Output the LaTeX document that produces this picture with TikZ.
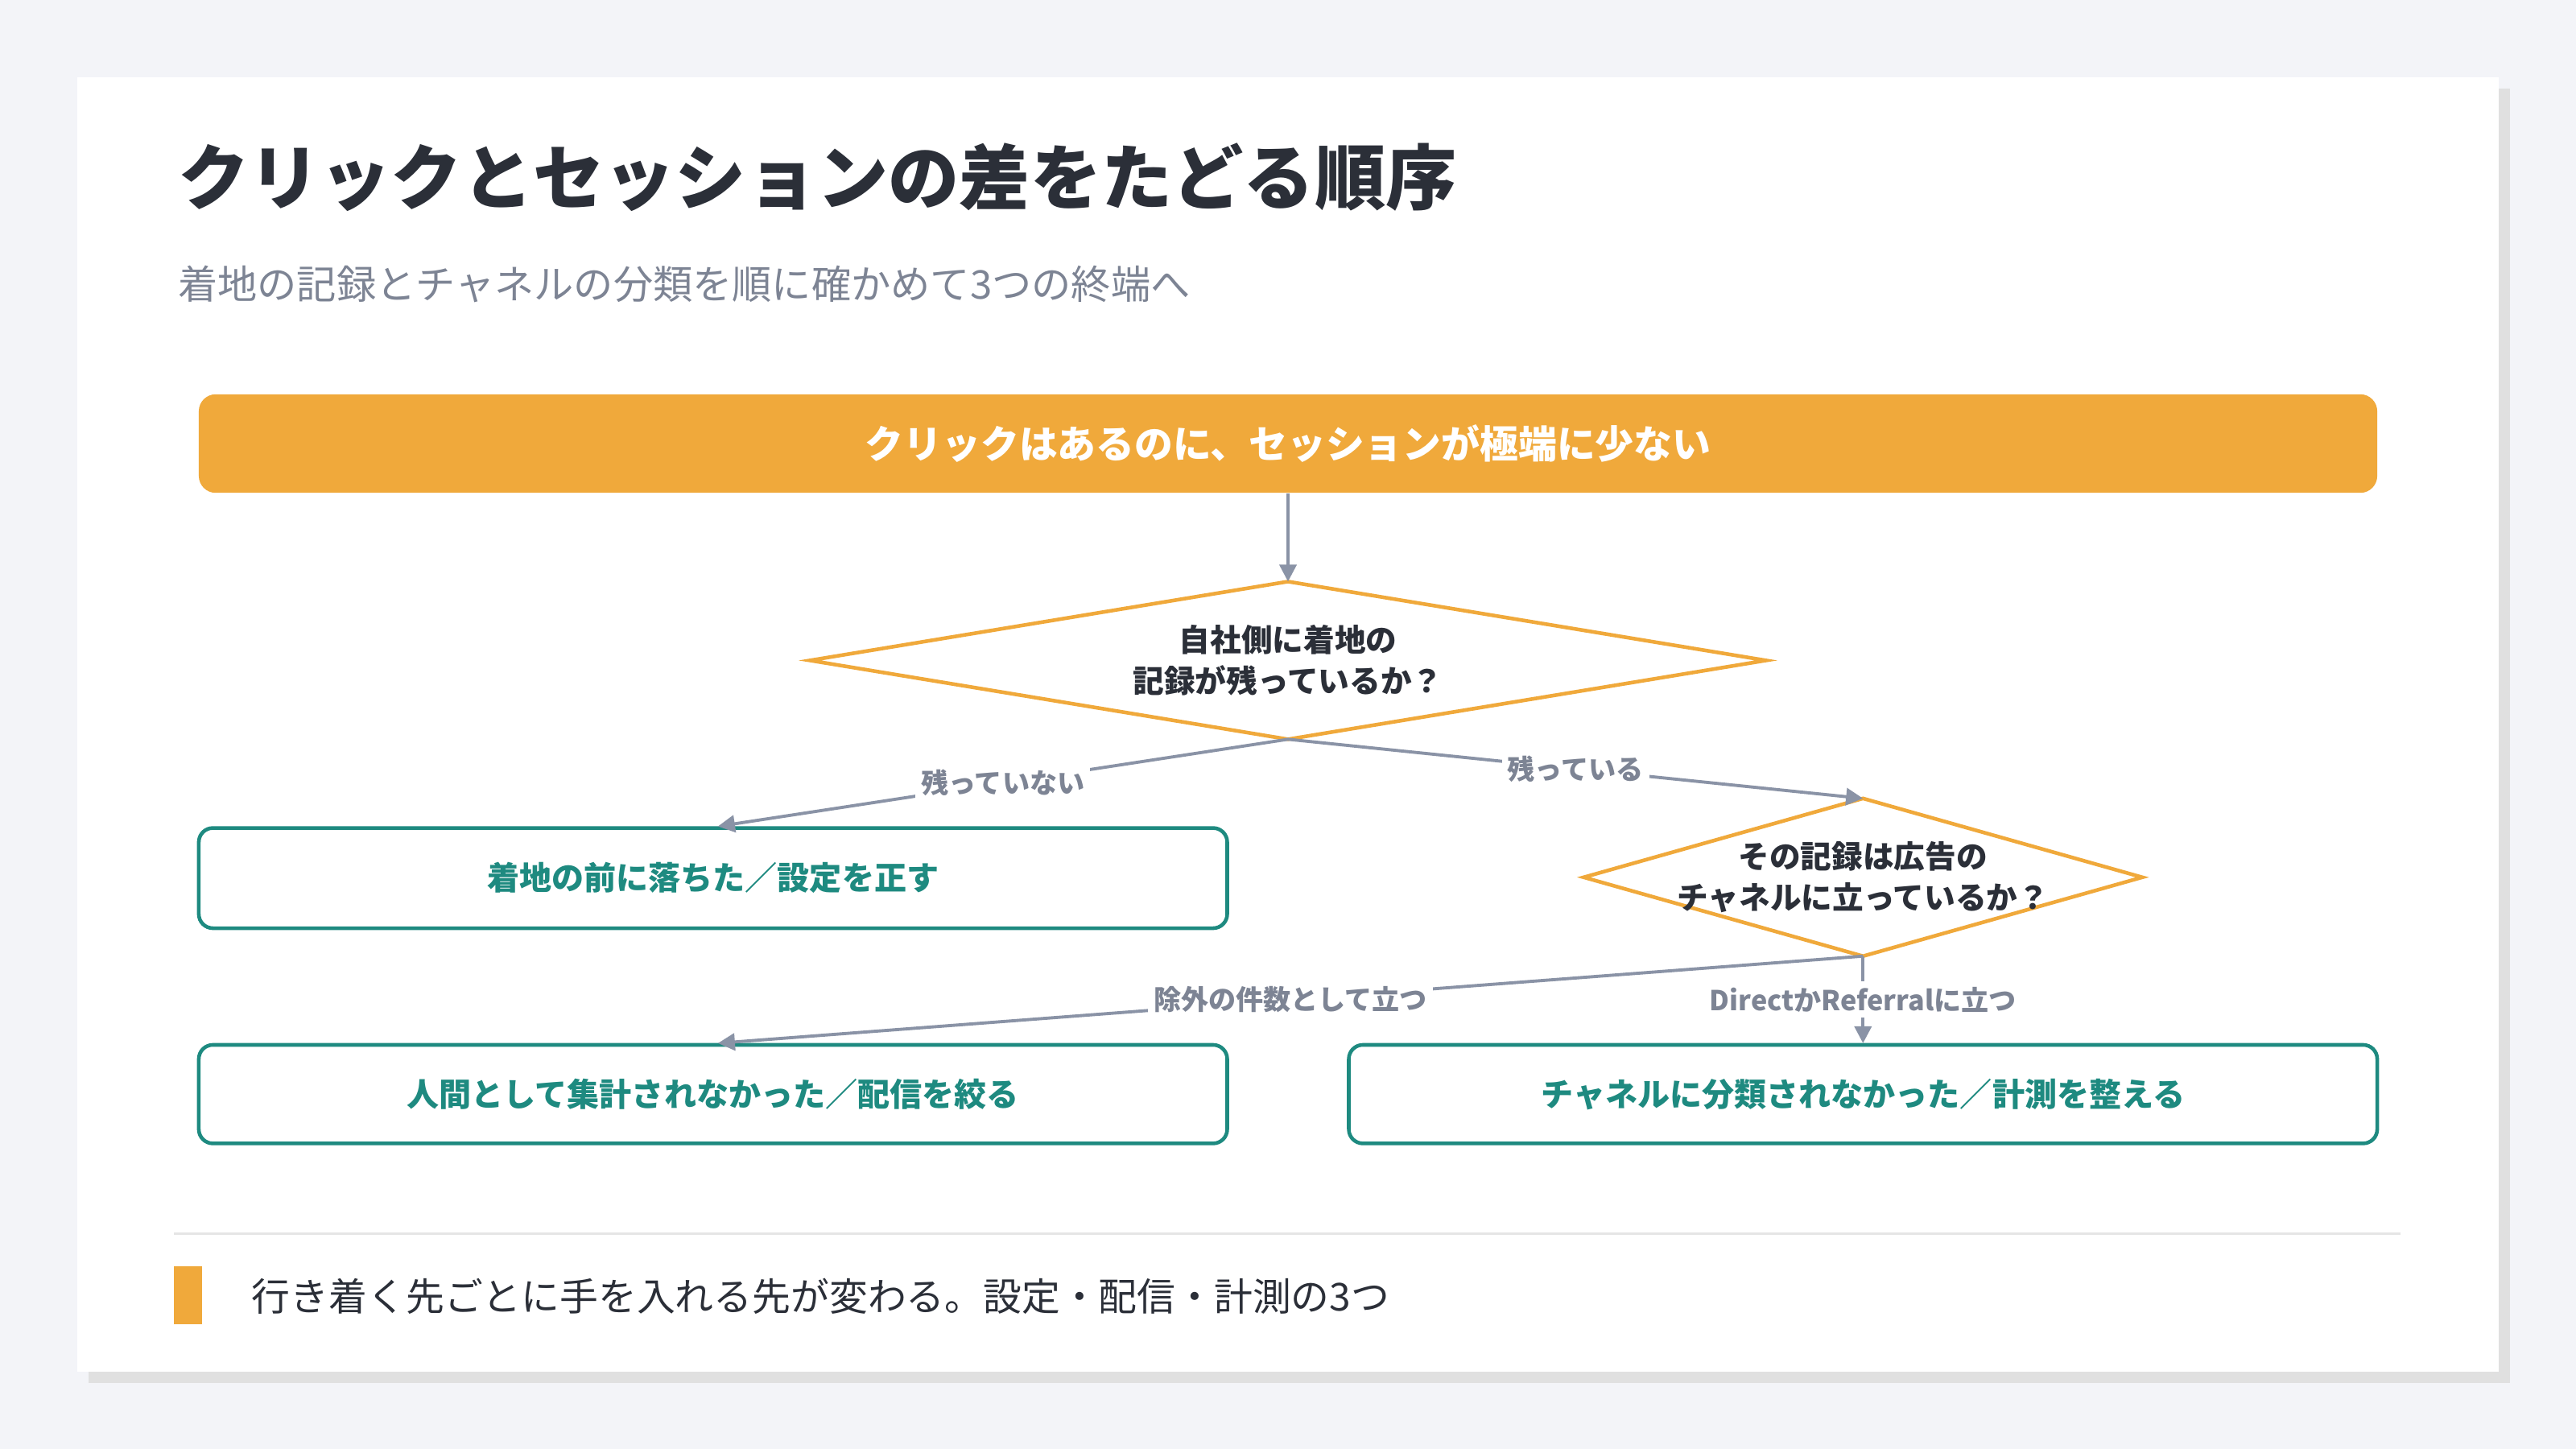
\documentclass[tikz,border=0pt]{standalone}
\usepackage{fontspec}
\setmainfont{Noto Sans CJK JP}
\usetikzlibrary{shapes.geometric,arrows.meta}
\definecolor{bg}{HTML}{F3F4F8}
\definecolor{org}{HTML}{F0A93B}
\definecolor{teal}{HTML}{1E8A80}
\definecolor{dark}{HTML}{2B2F38}
\definecolor{sub}{HTML}{7D8494}
\definecolor{con}{HTML}{8A93A6}
\begin{document}
\begin{tikzpicture}[x=0.020408cm,y=-0.020408cm,
  conn/.style={draw=con,line width=1.1pt,-{Triangle[length=6pt,width=6pt]}},
  lab/.style={fill=white,text=sub,font=\bfseries\fontsize{9.7}{11}\selectfont,inner sep=2pt},
  term/.style={draw=teal,line width=1.3pt,rounded corners=5pt,fill=white,text=teal,font=\bfseries\fontsize{11.4}{13}\selectfont},
  dia/.style={draw=org,line width=1.3pt,fill=white},
  dtext/.style={text=dark,font=\bfseries\fontsize{11}{14.5}\selectfont,align=center}]
\useasboundingbox (0,0) rectangle (1568,882);
\fill[bg] (0,0) rectangle (1568,882);
\fill[black!12] (54,54) rectangle (1528,842);
\fill[white] (47,47) rectangle (1521,835);
\node[anchor=west,text=dark,font=\bfseries\fontsize{25.1}{29}\selectfont,inner sep=0pt] (title) at (108,108) {クリックとセッションの差をたどる順序};
\node[anchor=west,text=sub,font=\fontsize{14}{16}\selectfont,inner sep=0pt] (subt) at (108,173) {着地の記録とチャネルの分類を順に確かめて3つの終端へ};
\node[fill=org,rounded corners=6pt,minimum width=1326*0.020408cm,minimum height=60*0.020408cm,text=white,font=\bfseries\fontsize{13.6}{15}\selectfont] (top) at (784,270) {クリックはあるのに、セッションが極端に少ない};
\draw[dia] (493,402) coordinate (d1l) -- (784,354) coordinate (d1t) -- (1075,402) -- (784,450) coordinate (d1b) -- cycle;
\node[dtext] (d1) at (784,402) {自社側に着地の\\記録が残っているか？};
\draw[dia] (964,534) -- (1134,486) coordinate (d2t) -- (1304,534) -- (1134,582) coordinate (d2b) -- cycle;
\node[dtext] (d2) at (1134,534) {その記録は広告の\\チャネルに立っているか？};
\node[term,minimum width=626*0.020408cm,minimum height=61*0.020408cm] (t1) at (434,534.5) {着地の前に落ちた／設定を正す};
\node[term,minimum width=626*0.020408cm,minimum height=60*0.020408cm] (t2) at (434,666) {人間として集計されなかった／配信を絞る};
\node[term,minimum width=626*0.020408cm,minimum height=60*0.020408cm] (t3) at (1134,666) {チャネルに分類されなかった／計測を整える};
\coordinate (t1t) at (437,503);
\coordinate (t2t) at (437,635);
\coordinate (t3t) at (1134,635);
\draw[conn] (top.south) -- (d1t);
\draw[conn] (d1b) -- node[lab,pos=0.5] {残っていない} (t1t);
\draw[conn] (d1b) -- node[lab,pos=0.5] {残っている} (d2t);
\draw[conn] (d2b) -- node[lab,pos=0.5] {除外の件数として立つ} (t2t);
\draw[conn] (d2b) -- node[lab,pos=0.5] {DirectかReferralに立つ} (t3t);
\draw[black!10,line width=0.8pt] (106,751) -- (1461,751);
\fill[org] (106,771) rectangle (123,806);
\node[anchor=west,text=dark,font=\fontsize{13.6}{15}\selectfont,inner sep=0pt] (note) at (153,789) {行き着く先ごとに手を入れる先が変わる。設定・配信・計測の3つ};
\end{tikzpicture}
\end{document}
